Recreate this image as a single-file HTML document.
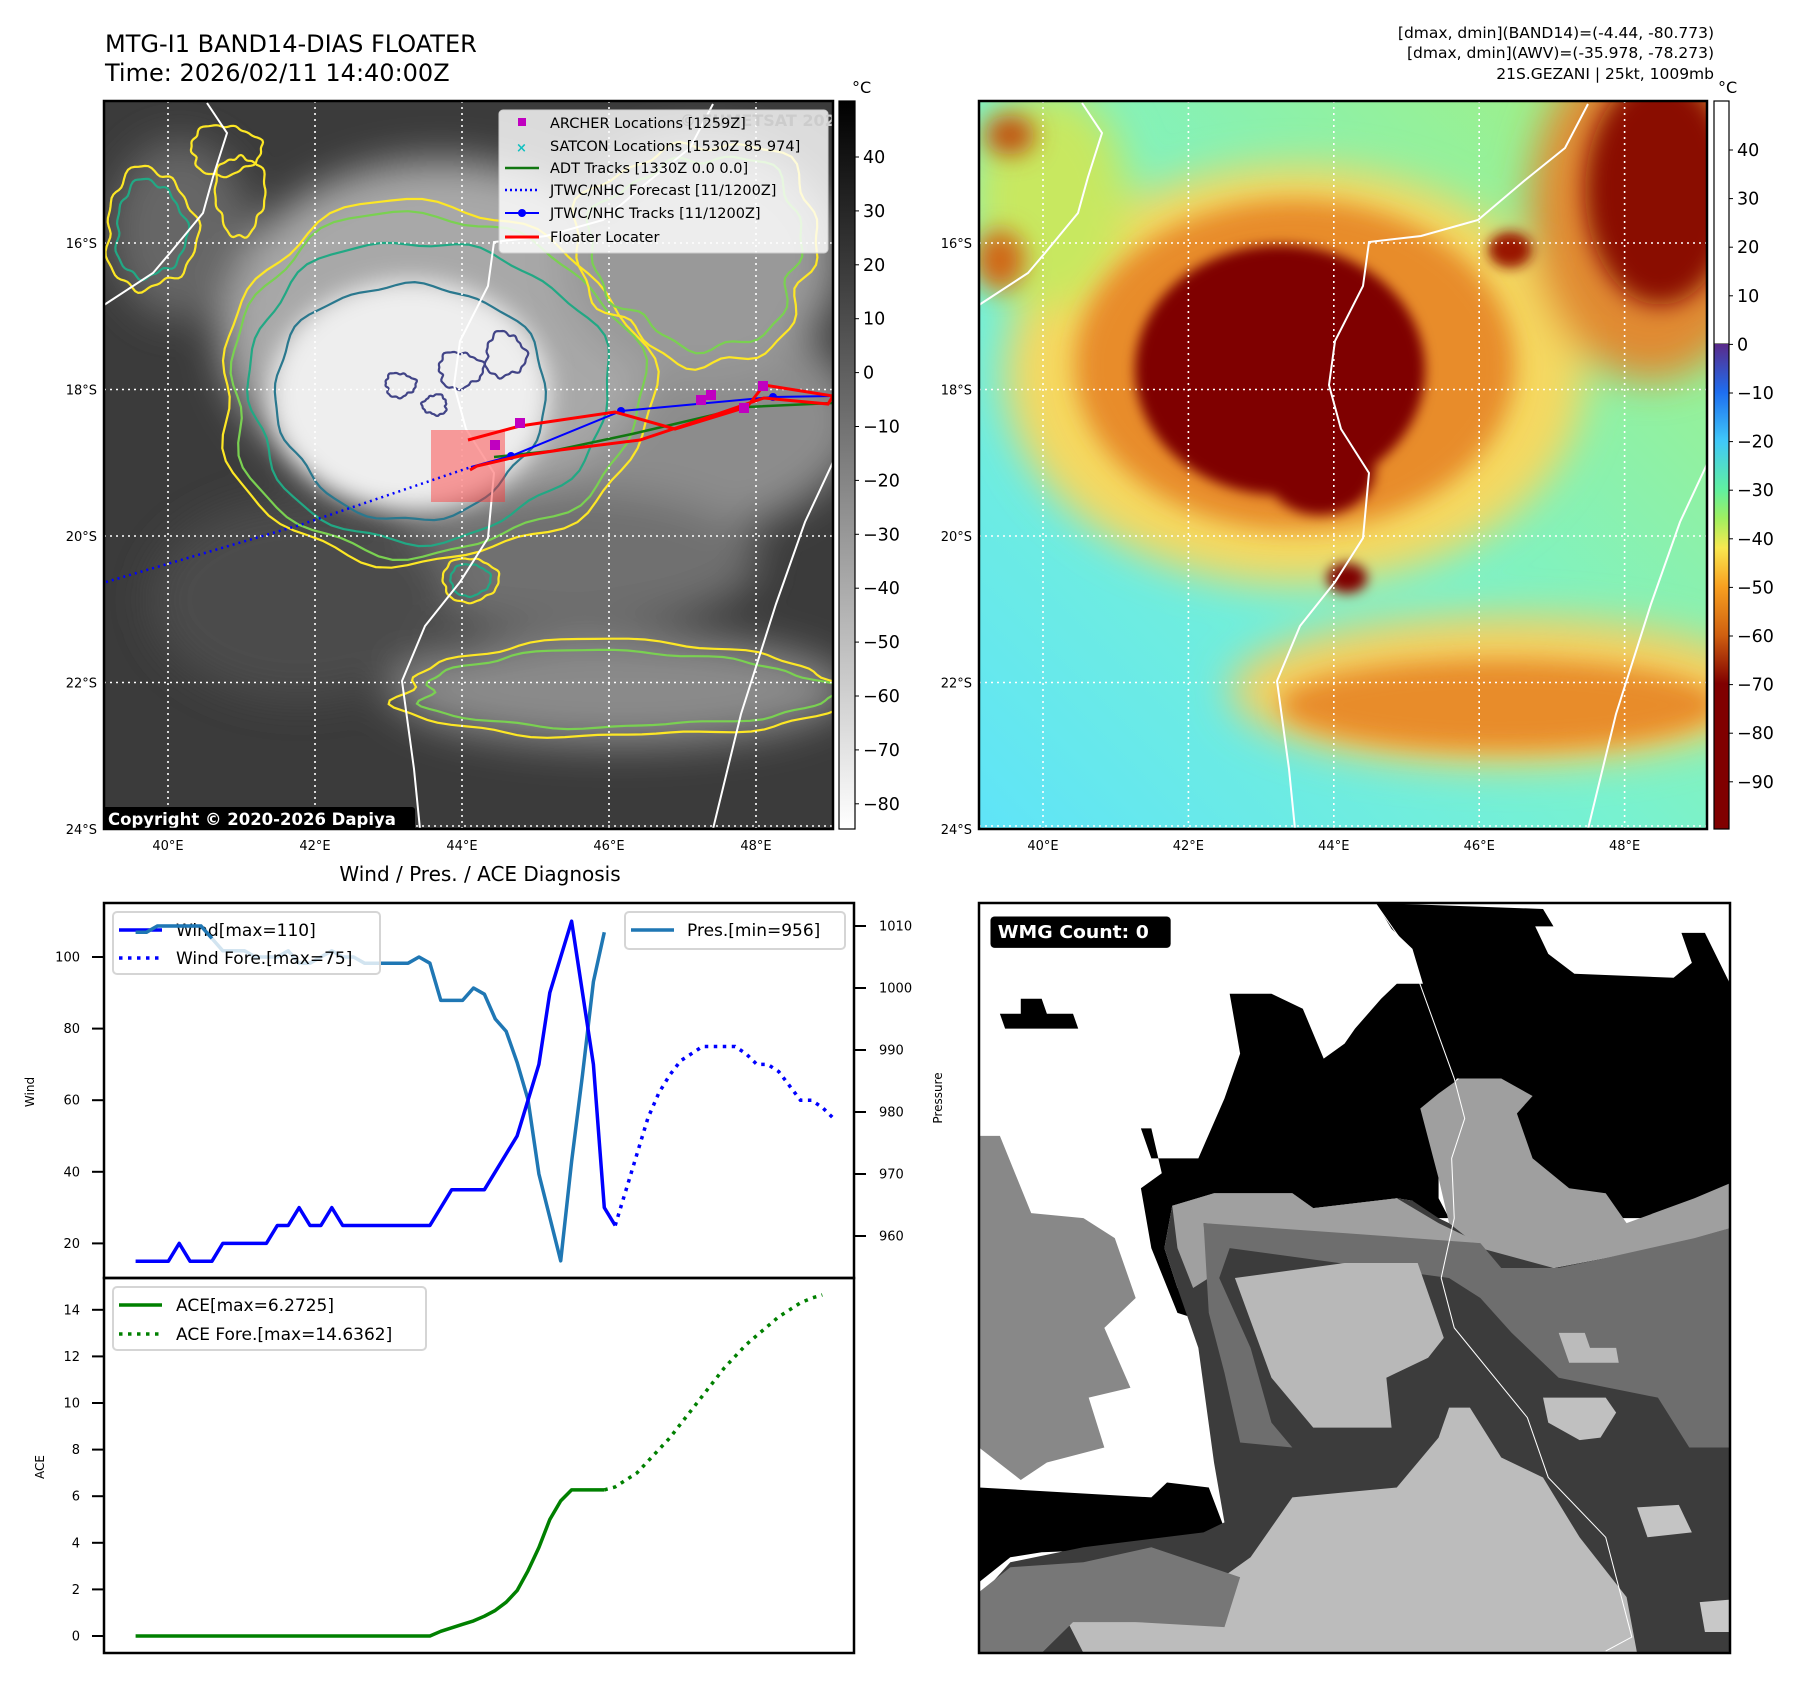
<!DOCTYPE html>
<html><head><meta charset="utf-8"><style>
html,body{margin:0;padding:0;background:#fff;}
svg{display:block;font-family:"DejaVu Sans","Liberation Sans",sans-serif;}
</style></head><body>
<svg id="fig" width="1797" height="1690" viewBox="0 0 1797 1690" xmlns="http://www.w3.org/2000/svg">
<defs>
  <filter id="b6" x="-50%" y="-50%" width="200%" height="200%"><feGaussianBlur stdDeviation="6"/></filter>
  <filter id="b12" x="-50%" y="-50%" width="200%" height="200%"><feGaussianBlur stdDeviation="12"/></filter>
  <filter id="b20" x="-50%" y="-50%" width="200%" height="200%"><feGaussianBlur stdDeviation="20"/></filter>
  <clipPath id="clipL"><rect x="104" y="101" width="729" height="728"/></clipPath>
  <clipPath id="clipR"><rect x="979" y="101" width="728" height="728"/></clipPath>
  <linearGradient id="gBase" x1="0" y1="1" x2="1" y2="0">
    <stop offset="0" stop-color="#5fe4f8"/><stop offset="0.45" stop-color="#78f2d0"/><stop offset="1" stop-color="#a6f07a"/>
  </linearGradient>
  <linearGradient id="cbL" x1="0" y1="0" x2="0" y2="1">
    <stop offset="0" stop-color="#000"/><stop offset="1" stop-color="#fff"/>
  </linearGradient>
  <linearGradient id="cbR" x1="0" y1="0" x2="0" y2="1">
    <stop offset="0" stop-color="#5a2a8a"/><stop offset="0.1" stop-color="#1e6ef0"/><stop offset="0.2" stop-color="#40c8f8"/>
    <stop offset="0.3" stop-color="#60f0a0"/><stop offset="0.36" stop-color="#a0f060"/><stop offset="0.42" stop-color="#f8e850"/>
    <stop offset="0.5" stop-color="#f8a020"/><stop offset="0.6" stop-color="#d06010"/><stop offset="0.7" stop-color="#800000"/><stop offset="1" stop-color="#800000"/>
  </linearGradient>
</defs>

<text x="105" y="52" font-size="24">MTG-I1 BAND14-DIAS FLOATER</text>
<text x="105" y="81" font-size="24">Time: 2026/02/11 14:40:00Z</text>
<g font-size="15.5" text-anchor="end">
  <text x="1714" y="38">[dmax, dmin](BAND14)=(-4.44, -80.773)</text>
  <text x="1714" y="58">[dmax, dmin](AWV)=(-35.978, -78.273)</text>
  <text x="1714" y="79">21S.GEZANI | 25kt, 1009mb</text>
</g>

<g id="mapL" clip-path="url(#clipL)">
  <rect x="104" y="101" width="729" height="728" fill="#3b3b3b"/>
  <g filter="url(#b20)">
    <ellipse cx="600" cy="420" rx="260" ry="130" fill="#8c8c8c"/>
    <ellipse cx="440" cy="330" rx="220" ry="170" fill="#a8a8a8"/>
    <ellipse cx="700" cy="260" rx="140" ry="120" fill="#999"/>
    <ellipse cx="620" cy="690" rx="230" ry="55" fill="#8a8a8a"/>
    <ellipse cx="560" cy="560" rx="200" ry="70" fill="#707070"/>
    <ellipse cx="300" cy="600" rx="150" ry="100" fill="#4c4c4c"/>
    <ellipse cx="180" cy="230" rx="70" ry="90" fill="#666"/>
  </g>
  <ellipse cx="410" cy="395" rx="140" ry="115" fill="#eeeeee" filter="url(#b12)"/>
  <g id="contoursL" fill="none" stroke-width="2.2"></g>
  <path fill="none" stroke="#fff" stroke-width="2" d="M207,103 L227,133 L213,177 L203,213 L170,253 L153,273 L104,305"/>
  <path fill="none" stroke="#fff" stroke-width="2" d="M713,104 L690,148 L649,181 L603,220 L546,236 L494,242 L488,286 L460,341 L454,385 L466,429 L494,473 L488,538 L460,582 L425,626 L402,681 L414,769 L420,829"/>
  <path fill="none" stroke="#fff" stroke-width="2" d="M833,462 L805,522 L776,604 L741,714 L713,829"/>
  <g id="gridL" stroke="#fff" stroke-width="1.6" stroke-dasharray="2 4"></g>
  <rect x="431" y="430" width="74" height="72" fill="#ff3030" opacity="0.45"/>
  <polyline points="106,582 300,525 471,467" fill="none" stroke="#0000ff" stroke-width="2.5" stroke-dasharray="2 4"/>
  <polyline points="494,457 552,451 632,434 747,407 833,403" fill="none" stroke="#117711" stroke-width="2.5"/>
  <polyline points="471,467 511,456 621,411 773,397 833,396" fill="none" stroke="#0000ff" stroke-width="2"/>
  <g fill="#0000ff"><circle cx="511" cy="456" r="4"/><circle cx="621" cy="411" r="4"/><circle cx="773" cy="397" r="4"/></g>
  <polyline points="468,440 520,426 615,412 675,429 747,407 764,385 833,396 828,404 764,398 700,420 640,440 560,450 520,456 477,466 470,470" fill="none" stroke="#ff0000" stroke-width="3"/>
  <g fill="#c000c0">
    <rect x="515" y="418" width="10" height="10"/><rect x="490" y="440" width="10" height="10"/>
    <rect x="696" y="395" width="10" height="10"/><rect x="706" y="390" width="10" height="10"/>
    <rect x="739" y="403" width="10" height="10"/><rect x="758" y="381" width="10" height="10"/>
  </g>
  <g>
    <rect x="499" y="110" width="329" height="143" rx="4" fill="#fff" fill-opacity="0.82" stroke="#ccc"/>
    <text x="680" y="126" font-size="16" font-weight="bold" fill="#ccc">© EUMETSAT 2026</text>
    <g font-size="14.5" fill="#000">
      <rect x="518" y="118" width="8" height="8" fill="#c000c0"/><text x="550" y="128">ARCHER Locations [1259Z]</text>
      <text x="516" y="152" fill="#10c0c0" font-size="13" font-weight="bold">×</text><text x="550" y="151">SATCON Locations [1530Z 85 974]</text>
      <line x1="505" y1="168" x2="539" y2="168" stroke="#117711" stroke-width="2.5"/><text x="550" y="173">ADT Tracks [1330Z 0.0 0.0]</text>
      <line x1="505" y1="190" x2="539" y2="190" stroke="#0000ff" stroke-width="2.5" stroke-dasharray="2 3"/><text x="550" y="195">JTWC/NHC Forecast [11/1200Z]</text>
      <line x1="505" y1="213" x2="539" y2="213" stroke="#0000ff" stroke-width="2"/><circle cx="522" cy="213" r="4" fill="#0000ff"/><text x="550" y="218">JTWC/NHC Tracks [11/1200Z]</text>
      <line x1="505" y1="237" x2="539" y2="237" stroke="#ff0000" stroke-width="3"/><text x="550" y="242">Floater Locater</text>
    </g>
  </g>
  <rect x="102" y="807" width="313" height="24" rx="3" fill="#000"/>
  <text x="108" y="825" font-size="16.5" font-weight="bold" fill="#fff">Copyright © 2020-2026 Dapiya</text>
</g>
<rect x="104" y="101" width="729" height="728" fill="none" stroke="#000" stroke-width="2.5"/>
<rect x="839" y="101" width="16" height="728" fill="url(#cbL)" stroke="#000" stroke-width="1.2"/>
<text x="852" y="93" font-size="16">°C</text>
<g id="cbLticks" font-size="17.5"></g>

<g id="mapR" clip-path="url(#clipR)">
  <rect x="979" y="101" width="728" height="728" fill="url(#gBase)"/>
  <g filter="url(#b20)">
    <ellipse cx="1295" cy="375" rx="290" ry="210" fill="#f5d860"/>
    <ellipse cx="1500" cy="690" rx="270" ry="75" fill="#f5d060"/>
    <ellipse cx="1650" cy="210" rx="120" ry="170" fill="#e08a30"/>
    <ellipse cx="1050" cy="200" rx="80" ry="110" fill="#c8e860"/>
  </g>
  <g filter="url(#b12)">
    <ellipse cx="1295" cy="365" rx="220" ry="165" fill="#e88c2c"/>
    <ellipse cx="1500" cy="705" rx="220" ry="45" fill="#e88c2c"/>
    <ellipse cx="1660" cy="190" rx="75" ry="115" fill="#8a0800"/>
    <ellipse cx="1010" cy="135" rx="25" ry="20" fill="#c05010"/>
    <ellipse cx="1000" cy="260" rx="25" ry="30" fill="#d06818"/>
  </g>
  <g filter="url(#b6)">
    <ellipse cx="1280" cy="370" rx="145" ry="125" fill="#7f0000"/>
    <ellipse cx="1320" cy="470" rx="55" ry="45" fill="#7f0000"/>
    <ellipse cx="1347" cy="578" rx="20" ry="15" fill="#7f0000"/>
    <ellipse cx="1510" cy="250" rx="22" ry="18" fill="#9a1800"/>
  </g>
  <path fill="none" stroke="#fff" stroke-width="2" d="M1082,103 L1102,133 L1088,177 L1078,213 L1045,253 L1028,273 L979,305"/>
  <path fill="none" stroke="#fff" stroke-width="2" d="M1588,104 L1565,148 L1524,181 L1478,220 L1421,236 L1369,242 L1363,286 L1335,341 L1329,385 L1341,429 L1369,473 L1363,538 L1335,582 L1300,626 L1277,681 L1289,769 L1295,829"/>
  <path fill="none" stroke="#fff" stroke-width="2" d="M1708,462 L1680,522 L1651,604 L1616,714 L1588,829"/>
  <g id="gridR" stroke="#fff" stroke-width="1.6" stroke-dasharray="2 4"></g>
</g>
<rect x="979" y="101" width="728" height="728" fill="none" stroke="#000" stroke-width="2.5"/>
<rect x="1714" y="101" width="15" height="243" fill="#fff" stroke="#000" stroke-width="1"/>
<rect x="1714" y="344" width="15" height="485" fill="url(#cbR)"/>
<rect x="1714" y="101" width="15" height="728" fill="none" stroke="#000" stroke-width="1.2"/>
<text x="1718" y="93" font-size="16">°C</text>
<g id="cbRticks" font-size="17.5"></g>
<g id="mapTicks" font-size="13"></g>

<text x="480" y="881" font-size="20" text-anchor="middle">Wind / Pres. / ACE Diagnosis</text>
<g id="chart"></g>
<rect x="104" y="903" width="750" height="375" fill="none" stroke="#000" stroke-width="2.5"/>
<rect x="104" y="1278" width="750" height="375" fill="none" stroke="#000" stroke-width="2.5"/>

<svg x="979" y="903" width="751" height="750" viewBox="0 8 1438 1504" preserveAspectRatio="none">
  <rect x="0" y="8" width="1438" height="1504" fill="#fff"/>
  <polygon fill="#000" points="760,8 1080,20 1100,55 1065,55 1090,110 1140,150 1330,158 1365,128 1345,68 1390,68 1438,170 1438,660 1340,660 1300,640 1200,640 1150,600 1060,590 1030,520 1000,360 915,360 880,420 880,600 900,640 840,640 830,605 800,600 640,620 600,590 450,590 370,615 355,700 380,780 410,780 410,840 380,830 330,700 310,580 350,550 330,460 310,460 330,520 420,520 470,400 500,310 480,190 560,190 620,220 660,320 700,290 720,260 770,200 800,170 850,170 830,100 790,60"/>
  <polygon fill="#000" points="40,230 80,230 80,200 120,200 130,230 180,230 190,260 50,260"/>
  <polygon fill="#888" points="0,475 40,475 100,630 200,640 260,680 300,800 240,860 290,980 210,1000 240,1100 130,1130 80,1165 0,1100"/>
  <polygon fill="#000" points="0,1180 330,1200 360,1170 440,1180 480,1290 370,1300 120,1310 60,1320 0,1370"/>
  <polygon fill="#3c3c3c" points="370,615 450,590 600,590 640,620 800,600 830,605 880,640 960,680 1100,740 1200,720 1300,700 1438,660 1438,1512 0,1512 0,1400 60,1330 200,1300 430,1270 470,1250 450,1130 420,900 380,780 355,700"/>
  <polygon fill="#9f9f9f" points="845,420 880,390 920,360 1000,360 1060,395 1030,430 1060,520 1130,580 1200,590 1240,650 1370,600 1438,570 1438,660 1340,690 1200,720 1100,740 960,700 900,650 880,560"/>
  <polygon fill="#a0a0a0" points="370,615 450,590 600,590 640,620 800,600 880,650 960,690 700,680 430,650 440,760 410,780 380,700"/>
  <polygon fill="#6e6e6e" points="430,650 700,670 960,690 1000,740 1110,740 1200,720 1370,680 1438,660 1438,1100 1360,1100 1300,1000 1110,960 1020,870 960,800 900,760 480,700 460,760 520,900 560,1050 600,1100 500,1090 470,950 440,830"/>
  <polygon fill="#b8b8b8" points="490,760 700,730 840,730 890,880 860,920 780,960 790,1060 640,1060 560,960"/>
  <polygon fill="#bcbcbc" points="520,1320 600,1200 700,1190 800,1180 880,1080 900,1020 940,1020 1000,1120 1080,1160 1150,1280 1240,1400 1260,1512 200,1512 170,1450 300,1400 440,1380"/>
  <polygon fill="#777" points="0,1390 60,1340 200,1330 330,1300 500,1360 470,1460 300,1450 180,1450 120,1512 0,1512"/>
  <polygon fill="#bbb" points="1110,870 1160,870 1170,900 1220,900 1225,930 1130,930"/>
  <polygon fill="#c4c4c4" points="1260,1220 1340,1215 1365,1270 1280,1280"/>
  <polygon fill="#c0c0c0" points="1080,1000 1200,1000 1220,1030 1190,1080 1150,1085 1090,1050"/>
  <polygon fill="#c8c8c8" points="1380,1410 1438,1405 1438,1470 1390,1470"/>
  <polyline fill="none" stroke="#fff" stroke-width="2" points="760,10 820,100 910,360 930,440 905,520 910,640 885,760 910,860 1050,1040 1090,1160 1200,1280 1250,1480 1200,1508"/>
  <rect x="22" y="35" width="345" height="63" rx="8" fill="#000"/>
  <text x="36" y="78" font-size="36" font-weight="bold" fill="#fff">WMG Count: 0</text>
</svg>
<rect x="979" y="903" width="751" height="750" fill="none" stroke="#000" stroke-width="2.5"/>

<script>
const windObs = [15,15,15,15,20,15,15,15,20,20,20,20,20,25,25,30,25,25,30,25,25,25,25,25,25,25,25,25,30,35,35,35,35,40,45,50,60,70,90,100,110,90,70,30,25];
const presObs = [1009,1009,1010,1010,1010,1010,1010,1008,1006,1006,1006,1005,1005,1005,1006,1004,1004,1005,1006,1005,1005,1004,1004,1004,1004,1004,1005,1004,998,998,998,1000,999,995,993,988,982,970,963,956,972,986,1001,1009];
const windFore = [25,35,45,55,62,67,71,73,75,75,75,75,73,70,70,68,64,60,60,58,55];
const aceObs = [0,0,0,0,0,0,0,0,0,0,0,0,0,0,0,0,0,0,0,0,0,0,0,0,0,0,0,0,0.2,0.35,0.5,0.65,0.85,1.1,1.45,1.95,2.8,3.8,5.0,5.8,6.27,6.27,6.27,6.27];
const aceFore = [6.27,6.4,6.7,7.0,7.5,8.0,8.5,9.1,9.7,10.3,10.9,11.5,12.0,12.5,12.9,13.3,13.7,14.0,14.3,14.5,14.64];
const windTicks = [20,40,60,80,100];
const presTicks = [960,970,980,990,1000,1010];
const aceTicks = [0,2,4,6,8,10,12,14];
const cbLTicks = [40,30,20,10,0,-10,-20,-30,-40,-50,-60,-70,-80];
const cbRTicks = [40,30,20,10,0,-10,-20,-30,-40,-50,-60,-70,-80,-90];
const lonTicks = [40,42,44,46,48];
const latTicks = [16,18,20,22,24];

const NS='http://www.w3.org/2000/svg';
function mk(tag, attrs, parent){const e=document.createElementNS(NS,tag);for(const k in attrs)e.setAttribute(k,attrs[k]);parent.appendChild(e);return e;}
function txt(s, attrs, parent){const e=mk('text',attrs,parent);e.textContent=s;return e;}
const fmt=v=>(v<0?'\u2212'+(-v):''+v);

const xIdx=i=>135.6+i*10.9;
const yW=v=>957+(100-v)*3.58;
const yP=p=>926+(1010-p)*6.2;
const yA=v=>1636-v*23.3;
const lonX=l=>168+(l-40)*73.5;
const lonXR=l=>1043+(l-40)*72.7;
const latY=l=>243+(l-16)*73.25;
const cbLY=v=>157+(40-v)*5.39;
const cbRY=v=>150+(40-v)*4.86;

const chart=document.getElementById('chart');
function pts(arr,yf,off){return arr.map((v,i)=>xIdx(i+off).toFixed(1)+','+yf(v).toFixed(1)).join(' ');}

let l1=mk('polyline',{points:pts(presObs,yP,0),fill:'none',stroke:'#1f77b4','stroke-width':3.5,'stroke-linejoin':'round'},chart);


let l2=mk('polyline',{points:pts(windObs,yW,0),fill:'none',stroke:'#0000ff','stroke-width':3.5,'stroke-linejoin':'round'},chart);


let l3=mk('polyline',{points:pts(windFore,yW,windObs.length-1),fill:'none',stroke:'#0000ff','stroke-width':3.5,'stroke-dasharray':'3.5 5.5'},chart);


let l4=mk('polyline',{points:pts(aceObs,yA,0),fill:'none',stroke:'#008000','stroke-width':3.5,'stroke-linejoin':'round'},chart);


let l5=mk('polyline',{points:pts(aceFore,yA,aceObs.length-1),fill:'none',stroke:'#008000','stroke-width':3.5,'stroke-dasharray':'3.5 5.5'},chart);



windTicks.forEach(v=>{const y=yW(v);mk('line',{x1:92,x2:104,y1:y,y2:y,stroke:'#000','stroke-width':2},chart);const t=txt(''+v,{x:80,y:y+4.5,'font-size':13,'text-anchor':'end'},chart);});
presTicks.forEach(v=>{const y=yP(v);mk('line',{x1:854,x2:866,y1:y,y2:y,stroke:'#000','stroke-width':2},chart);const t=txt(''+v,{x:879,y:y+4.5,'font-size':13},chart);});
aceTicks.forEach(v=>{const y=yA(v);mk('line',{x1:92,x2:104,y1:y,y2:y,stroke:'#000','stroke-width':2},chart);const t=txt(''+v,{x:80,y:y+4.5,'font-size':13,'text-anchor':'end'},chart);});
let a1=txt('Wind',{x:0,y:0,'font-size':12,transform:'translate(34,1092) rotate(-90)','text-anchor':'middle'},chart);


let a2=txt('Pressure',{x:0,y:0,'font-size':12,transform:'translate(942,1098) rotate(-90)','text-anchor':'middle'},chart);


let a3=txt('ACE',{x:0,y:0,'font-size':12,transform:'translate(44,1467) rotate(-90)','text-anchor':'middle'},chart);



function legendBox(x,y,w,h,name){const r=mk('rect',{x:x,y:y,width:w,height:h,rx:4,fill:'#fff','fill-opacity':0.8,stroke:'#d5d5d5','stroke-width':2},chart);}
legendBox(113,912,267,62,'wind-legend');
mk('line',{x1:119,x2:162,y1:930,y2:930,stroke:'#0000ff','stroke-width':3.5},chart);
txt('Wind[max=110]',{x:176,y:936,'font-size':17},chart);
mk('line',{x1:119,x2:162,y1:958,y2:958,stroke:'#0000ff','stroke-width':3.5,'stroke-dasharray':'3.5 5.5'},chart);
txt('Wind Fore.[max=75]',{x:176,y:964,'font-size':17},chart);
mk('polyline',{points:pts(presObs.slice(0,8),yP,0),fill:'none',stroke:'#1f77b4','stroke-width':3.5},chart);
legendBox(625,912,220,37,'pressure-legend');
mk('line',{x1:631,x2:674,y1:930,y2:930,stroke:'#1f77b4','stroke-width':3.5},chart);
txt('Pres.[min=956]',{x:687,y:936,'font-size':17},chart);
legendBox(113,1287,313,63,'ace-legend');
mk('line',{x1:119,x2:162,y1:1305,y2:1305,stroke:'#008000','stroke-width':3.5},chart);
txt('ACE[max=6.2725]',{x:176,y:1311,'font-size':17},chart);
mk('line',{x1:119,x2:162,y1:1334,y2:1334,stroke:'#008000','stroke-width':3.5,'stroke-dasharray':'3.5 5.5'},chart);
txt('ACE Fore.[max=14.6362]',{x:176,y:1340,'font-size':17},chart);

const cbl=document.getElementById('cbLticks');
cbLTicks.forEach(v=>{const y=cbLY(v);mk('line',{x1:855,x2:859,y1:y,y2:y,stroke:'#000'},cbl);const t=txt(fmt(v),{x:863,y:y+6},cbl);});
const cbr=document.getElementById('cbRticks');
cbRTicks.forEach(v=>{const y=cbRY(v);mk('line',{x1:1729,x2:1733,y1:y,y2:y,stroke:'#000'},cbr);const t=txt(fmt(v),{x:1737,y:y+6},cbr);});

const gL=document.getElementById('gridL'), gR=document.getElementById('gridR'), mt=document.getElementById('mapTicks');
lonTicks.forEach(l=>{const x=lonX(l), xr=lonXR(l);
  mk('line',{x1:x,x2:x,y1:101,y2:829},gL);mk('line',{x1:xr,x2:xr,y1:101,y2:829},gR);
  txt(l+'°E',{x:x,y:850,'text-anchor':'middle'},mt);txt(l+'°E',{x:xr,y:850,'text-anchor':'middle'},mt);});
latTicks.forEach(l=>{const y=Math.min(latY(l),826);
  mk('line',{x1:104,x2:833,y1:y,y2:y},gL);mk('line',{x1:979,x2:1707,y1:y,y2:y},gR);
  txt(l+'°S',{x:97,y:latY(l)+5,'text-anchor':'end'},mt);txt(l+'°S',{x:972,y:latY(l)+5,'text-anchor':'end'},mt);});

function blob(cx,cy,rx,ry,seed,amp){let d='';for(let k=0;k<=90;k++){const t=k/90*2*Math.PI;const r=1+amp*(Math.sin(3*t+seed)*0.5+Math.sin(7*t+seed*2)*0.3+Math.sin(13*t+seed*3)*0.2);d+=(k?'L':'M')+(cx+rx*r*Math.cos(t)).toFixed(1)+','+(cy+ry*r*Math.sin(t)).toFixed(1);}return d+'Z';}
const cg=document.getElementById('contoursL');
const contours=[
 [430,385,215,180,1,0.08,'#fde725'],[430,385,205,170,1.3,0.08,'#7ad151'],[425,390,180,150,2,0.07,'#22a884'],[410,400,135,118,3,0.06,'#2a788e'],
 [620,690,225,48,0.5,0.12,'#fde725'],[620,690,205,38,0.9,0.12,'#7ad151'],
 [470,580,20,16,2,0.1,'#22a884'],[470,580,28,22,2,0.1,'#fde725'],
 [700,250,120,110,4,0.15,'#fde725'],[700,250,105,95,4.2,0.15,'#7ad151'],
 [150,230,45,60,1,0.15,'#fde725'],[150,230,35,48,1,0.15,'#22a884'],
 [225,150,35,25,2,0.15,'#fde725'],[240,195,25,40,3,0.15,'#fde725'],
 [460,370,22,18,2,0.2,'#414487'],[505,355,20,22,1,0.2,'#414487'],[400,385,15,12,2,0.2,'#414487'],[435,405,12,10,5,0.2,'#414487']
];
contours.forEach(c=>{const p=mk('path',{d:blob(c[0],c[1],c[2],c[3],c[4],c[5]),stroke:c[6]},cg);

});
</script>
</svg>
</body></html>
